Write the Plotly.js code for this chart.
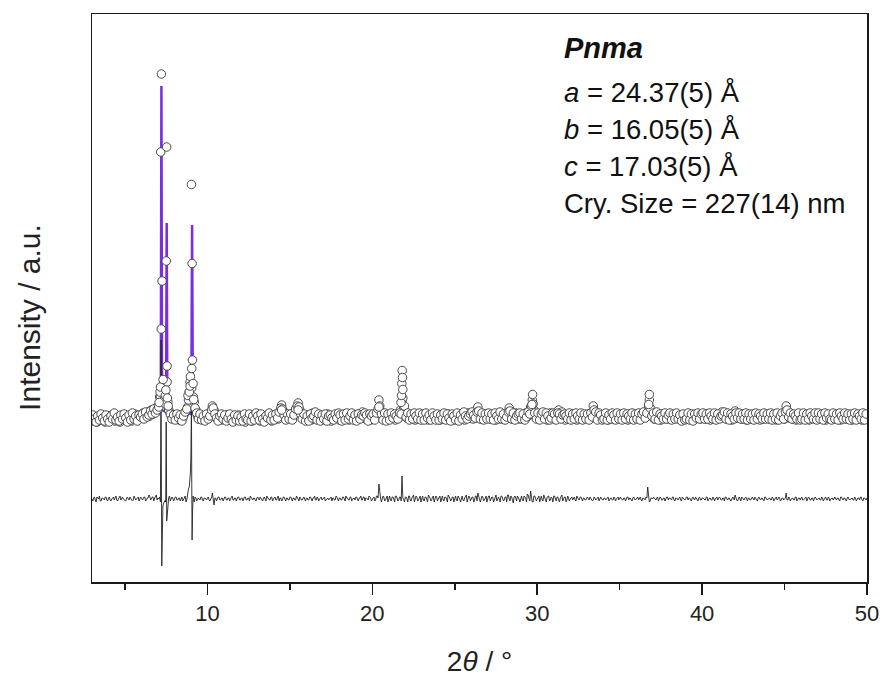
<!DOCTYPE html>
<html>
<head>
<meta charset="utf-8">
<script src="https://cdn.plot.ly/plotly-3.0.1.min.js"></script>
<style>html,body{margin:0;padding:0;background:#fff;}#chart{width:884px;height:680px;}</style>
</head>
<body>
<div id="chart"></div>
<script>
// Observed intensity on a regular 0.1° grid from 3.0° to 50.0° (arbitrary units)
const obsStart = 3.0;
const obsStep = 0.1;
const obsGrid = [
163,161,165,160,164,167,162,165,160,166,
164,162,167,163,161,166,164,160,165,163,
167,162,164,166,161,165,168,163,166,164,
166,169,164,167,170,166,172,168,171,174,
172,185,253,190,176,321,180,170,166,164,
167,163,165,162,166,164,168,171,175,190,
182,176,180,172,166,163,167,164,166,163,
165,168,170,176,172,166,163,167,164,162,
165,163,167,162,166,164,161,165,163,167,
162,166,164,160,165,163,167,161,164,166,
163,165,161,166,164,162,167,163,165,161,
166,164,167,163,169,177,171,166,163,165,
164,168,166,170,174,179,172,167,164,166,
163,167,165,162,169,166,164,167,163,165,
166,162,165,168,164,161,166,163,167,164,
162,165,163,167,164,166,162,165,168,164,
166,163,168,164,170,166,163,167,165,162,
164,167,165,169,182,171,166,163,167,164,
166,163,168,165,162,167,164,172,180,175,
168,164,166,163,167,165,162,166,164,167,
163,166,164,168,162,165,167,163,166,164,
165,162,167,164,166,163,168,164,165,162,
167,164,166,163,168,165,162,166,169,164,
166,163,168,164,175,167,163,166,164,168,
164,167,163,166,165,162,167,164,166,163,
165,168,164,174,167,163,166,169,165,163,
167,164,166,169,165,171,175,182,172,166,
164,167,163,166,168,164,162,166,169,165,
163,167,164,172,166,170,164,162,167,165,
166,163,168,165,162,167,164,166,163,167,
164,166,163,168,176,167,164,166,163,165,
167,164,166,162,168,165,163,167,164,166,
163,166,164,167,165,162,168,164,166,163,
166,164,167,163,165,169,166,172,182,170,
166,163,167,164,165,162,168,164,166,163,
164,167,163,166,164,168,165,162,166,164,
166,163,167,164,165,162,167,164,166,163,
164,166,163,168,165,162,167,164,166,163,
165,168,170,164,166,163,167,165,162,166,
171,167,164,166,163,168,165,162,166,164,
163,166,164,167,165,162,166,163,168,164,
166,163,167,164,165,162,166,168,164,166,
163,176,167,164,166,163,165,162,167,164,
166,164,167,163,165,162,168,164,166,163,
164,166,163,167,165,162,166,164,167,163,
165,163,166,164,162,167,164,166,163,165,
166,162,165,167,163,164,166,162,165,163,
164
];
// Observed intensity at the half steps 3.05°, 3.15°, ... 49.95°
const obsHalfStart = 3.05;
const obsHalf = [
167,163,160,166,162,168,164,161,167,163,
160,166,163,169,162,165,161,167,163,168,
164,160,167,162,169,163,166,161,167,165,
168,163,170,165,167,171,168,173,169,172,
175,186,196,182,178,200,172,168,163,167,
162,168,164,167,161,166,170,173,182,200,
194,185,174,169,163,168,162,166,161,168,
163,166,172,174,168,164,161,166,168,163,
167,161,164,168,163,160,167,162,166,161,
165,161,168,163,162,168,161,166,162,169,
166,162,168,163,160,166,164,169,162,167,
162,168,164,170,174,173,167,162,168,163,
168,162,167,173,176,175,168,163,168,161,
166,161,168,164,166,170,162,168,161,167,
163,168,161,166,167,164,162,168,164,169,
167,161,168,162,169,163,166,169,162,167,
161,168,163,167,166,169,167,161,168,166,
168,162,169,173,176,168,162,169,161,168,
162,169,164,168,166,163,169,168,184,176,
165,169,162,168,163,169,166,163,169,162,
168,162,169,164,167,162,169,166,162,168,
162,167,163,169,162,168,164,161,168,166,
162,169,161,167,163,170,166,163,166,168,
170,167,164,170,171,163,169,162,168,163,
169,163,168,162,169,166,163,170,163,168,
162,165,170,171,163,169,162,166,168,169,
163,168,162,165,170,168,176,178,169,163,
169,162,168,170,163,169,166,162,164,169,
168,162,169,168,163,167,168,166,163,169,
162,168,163,169,166,163,169,162,168,163,
168,162,169,165,172,170,162,169,167,162,
163,169,162,167,163,169,167,162,169,163,
168,162,169,163,168,166,163,169,162,168,
163,169,162,168,170,164,169,176,174,166,
169,163,170,162,168,166,163,169,163,167,
169,162,168,163,169,163,167,161,168,162,
163,169,162,168,161,168,164,169,163,168,
169,163,168,163,169,166,163,169,162,168,
163,166,167,170,163,169,162,168,166,163,
169,164,169,163,168,163,169,162,168,163,
168,162,169,163,168,166,163,169,163,168,
163,169,162,168,163,169,162,166,169,163,
170,172,165,169,163,168,166,163,169,162,
163,169,162,168,163,169,166,163,169,162,
169,163,168,162,169,164,168,163,162,169,
163,168,162,169,166,163,169,163,168,162,
168,163,169,162,168,166,163,169,162,168
];
// Extra observed points read at the reflections
const obsPeakX = [7.07,7.13,7.15,7.17,7.21,7.25,7.31,7.45,7.48,7.53,7.55,7.57,7.62,
  8.82,8.90,8.95,8.97,9.03,9.05,9.07,9.09,9.13,9.17,
  14.5,15.5,20.4,
  21.74,21.77,21.79,21.81,21.83,21.85,
  29.68,29.72,36.76,36.80];
const obsPeakI = [179.5,190,195,430,508,301,202.5,186.5,192,435,216,184,176,
  186.5,190,196,205.5,397.5,213.5,318.5,222,198.5,182.5,
  172,172,175,
  179.5,186.5,198.5,211.5,204.5,192.5,
  177.5,187.5,177.5,187.5];

// Calculated profile
const calcX = [3,7.0,7.17,7.21,7.25,7.49,7.53,7.57,9.02,9.07,9.12,21.77,21.81,21.85,29.68,29.72,29.76,36.76,36.80,36.84,50];
const calcI = [165,167,170,496,172,170,359,170,168,357,168,166,190,166,166,175,166,166,176,166,165];

// Difference curve on the 0.1° grid
const diffGrid = [
83,84,82,85,83,81,84,83,85,82,
84,82,83,85,84,82,83,86,84,83,
82,84,83,85,83,82,84,83,85,83,
84,83,85,82,84,86,83,85,84,87,
84,85,150,76,81,160,78,86,83,84,
83,85,82,84,83,81,84,80,91,95,
130,70,80,84,82,83,85,82,84,83,
84,82,83,89,77,84,83,85,82,84,
83,85,82,84,83,86,82,84,83,85,
82,84,83,85,82,84,86,83,84,82,
84,83,85,82,84,83,86,84,82,85,
83,85,82,86,84,81,85,83,84,82,
85,83,84,82,86,83,85,82,84,83,
84,82,85,83,84,86,82,84,83,85,
83,85,82,84,83,85,84,82,86,83,
84,82,85,83,86,84,82,85,83,84,
85,83,84,86,82,85,84,83,86,84,
83,85,82,86,98,84,83,85,82,86,
84,82,85,83,86,84,82,85,106,83,
85,83,86,82,84,87,83,85,82,86,
84,82,85,83,87,84,82,86,83,85,
83,86,84,82,85,83,87,84,82,85,
84,82,86,83,85,82,84,87,83,85,
83,85,82,86,89,84,83,85,82,86,
84,86,83,85,82,87,84,83,86,84,
82,85,87,83,86,82,85,84,86,83,
85,82,86,84,88,83,91,80,86,84,
83,86,84,82,87,83,85,86,82,84,
86,83,85,82,84,87,83,85,82,84,
83,85,84,82,86,83,85,83,84,82,
84,83,85,83,82,84,83,85,84,83,
82,84,83,85,83,84,82,84,83,85,
84,83,82,84,83,85,84,82,84,83,
83,85,84,82,84,83,85,95,80,84,
83,84,82,85,83,84,82,84,83,85,
84,83,85,82,84,83,84,82,85,83,
83,85,84,82,84,83,85,83,84,82,
84,83,82,85,83,84,82,84,83,85,
83,84,82,84,85,83,84,82,83,84,
87,82,84,83,85,82,84,83,84,82,
84,83,85,82,84,83,84,82,85,83,
83,84,82,84,83,85,83,84,82,84,
83,89,82,84,83,84,82,85,83,84,
84,82,83,85,83,84,82,84,83,84,
83,84,82,84,83,85,82,84,83,84,
84,83,84,82,85,83,84,82,84,83,
83,84,82,84,83,84,85,82,84,83,
84
];
// Difference curve at the half steps 3.05°, 3.15°, ... 49.95°
const diffHalf = [
81,85,80,84,86,81,84,82,85,81,
85,81,84,82,86,81,84,82,85,82,
81,85,82,84,81,86,82,84,81,85,
82,85,81,84,87,82,85,81,86,82,
83,80,40,79,82,66,84,81,85,81,
85,82,84,81,85,82,86,82,93,102,
100,82,85,81,84,82,85,81,84,82,
85,81,84,82,84,81,85,82,84,81,
85,82,84,81,85,82,84,81,85,82,
84,81,85,82,84,81,85,82,84,81,
85,82,84,81,85,81,84,82,85,81,
84,82,85,81,84,82,85,81,84,82,
85,81,84,82,85,81,84,82,85,81,
84,82,85,81,84,82,85,81,84,82,
85,81,84,82,85,81,84,82,85,81,
84,82,85,81,84,82,85,81,84,82,
85,81,84,82,85,81,84,82,85,81,
84,81,86,84,86,80,86,81,85,80,
86,81,85,80,86,81,85,81,84,80,
85,80,86,81,85,80,86,81,85,80,
86,81,85,80,86,81,85,80,86,81,
85,80,86,81,85,80,86,81,85,80,
86,81,85,80,86,81,85,80,86,81,
85,80,86,81,85,80,86,81,85,80,
86,81,85,80,86,81,85,80,86,81,
85,80,87,81,85,79,86,81,85,80,
86,81,85,80,87,81,85,80,86,81,
85,80,86,81,85,80,86,81,85,80,
86,81,85,80,86,81,85,80,86,81,
84,82,85,81,84,82,85,81,84,82,
85,82,84,81,85,82,84,81,85,82,
84,82,85,81,84,82,85,81,84,82,
85,82,84,81,85,82,84,81,85,82,
84,82,85,81,84,82,84,88,81,84,
85,82,84,81,85,82,84,81,85,82,
84,82,85,81,84,82,85,81,84,82,
85,82,84,81,85,82,84,81,85,82,
84,82,85,81,84,82,85,81,84,82,
85,82,84,81,85,82,84,81,85,82,
84,81,85,81,84,82,85,81,84,82,
85,82,84,81,85,82,84,81,85,82,
84,82,85,81,84,82,85,81,84,82,
84,82,85,81,84,82,85,81,84,82,
85,82,84,81,85,82,84,81,85,82,
84,82,85,81,84,82,85,81,84,82,
85,82,84,81,85,82,84,81,85,82,
84,82,85,81,84,82,85,81,84,82
];
const diffPeakX = [7.15,7.19,7.23,7.27,7.47,7.53,7.56,8.97,9.03,9.07,9.13];
const diffPeakI = [80,242,16,60,80,61,72,110,177,42,86];

// Text block
const textLines = ['<b><i>Pnma</i></b>','<i>a</i> = 24.37(5) Å','<i>b</i> = 16.05(5) Å','<i>c</i> = 17.03(5) Å','Cry. Size = 227(14) nm'];
const yTitle = 'Intensity / a.u.';
const xTitle = '2<i>θ</i> / °';
const xTickVals = [10,20,30,40,50];

// ---- build traces ----
const gridX = obsGrid.map((_, i) => +(obsStart + i * obsStep).toFixed(2));
const halfX = obsHalf.map((_, i) => +(obsHalfStart + i * obsStep).toFixed(2));
const obsX = gridX.concat(halfX, obsPeakX);
const obsY = obsGrid.concat(obsHalf, obsPeakI);

const dPairs = gridX.map((x, i) => [x, diffGrid[i]])
  .concat(halfX.map((x, i) => [x, diffHalf[i]]))
  .concat(diffPeakX.map((x, i) => [x, diffPeakI[i]]));
dPairs.sort((a, b) => a[0] - b[0]);

const FONT = 'Liberation Sans, Arial, sans-serif';

const traces = [
  {x: calcX, y: calcI, mode: 'lines', line: {color: '#7a2ee0', width: 2.5}, hoverinfo: 'skip', showlegend: false},
  {x: dPairs.map(p => p[0]), y: dPairs.map(p => p[1]), mode: 'lines', line: {color: '#222', width: 0.9}, showlegend: false},
  {x: obsX, y: obsY, mode: 'markers', marker: {symbol: 'circle', size: 8.5, color: '#ffffff', line: {color: '#4a4a4a', width: 1}}, showlegend: false}
];

const yPos = [0.940, 0.861, 0.796, 0.731, 0.667];
const annotations = textLines.map((t, i) => ({
  text: t, xref: 'paper', yref: 'paper', x: 0.607, y: yPos[i], xanchor: 'left', yanchor: 'middle',
  showarrow: false, font: {family: FONT, size: i === 0 ? 29 : 27.5, color: '#111'}
}));
annotations.push({
  text: yTitle, xref: 'paper', yref: 'paper', x: -0.08, y: 0.465, xanchor: 'center', yanchor: 'middle',
  textangle: -90, showarrow: false, font: {family: FONT, size: 30, color: '#222'}
});

const layout = {
  width: 884, height: 680,
  margin: {l: 92, r: 17, t: 14, b: 98},
  paper_bgcolor: '#fff', plot_bgcolor: '#fff',
  font: {family: FONT, color: '#111'},
  xaxis: {
    range: [3, 50], showgrid: false, zeroline: false,
    showline: true, mirror: true, linecolor: '#1a1a1a', linewidth: 1.5,
    ticks: 'outside', ticklen: 11, tickwidth: 1.5, tickcolor: '#1a1a1a',
    tickvals: xTickVals, ticktext: xTickVals.map(String),
    tickfont: {family: FONT, size: 22, color: '#222'},
    minor: {ticks: 'outside', ticklen: 6, tickwidth: 1.5, tickcolor: '#1a1a1a', dtick: 5, tick0: 0, showgrid: false},
    title: {text: xTitle, font: {family: FONT, size: 28, color: '#222'}, standoff: 26}
  },
  yaxis: {
    range: [0, 568], showgrid: false, zeroline: false, showticklabels: false, ticks: '',
    showline: true, mirror: true, linecolor: '#1a1a1a', linewidth: 1.5
  },
  annotations: annotations
};

Plotly.newPlot('chart', traces, layout, {displayModeBar: false, staticPlot: true});
</script>
</body>
</html>
